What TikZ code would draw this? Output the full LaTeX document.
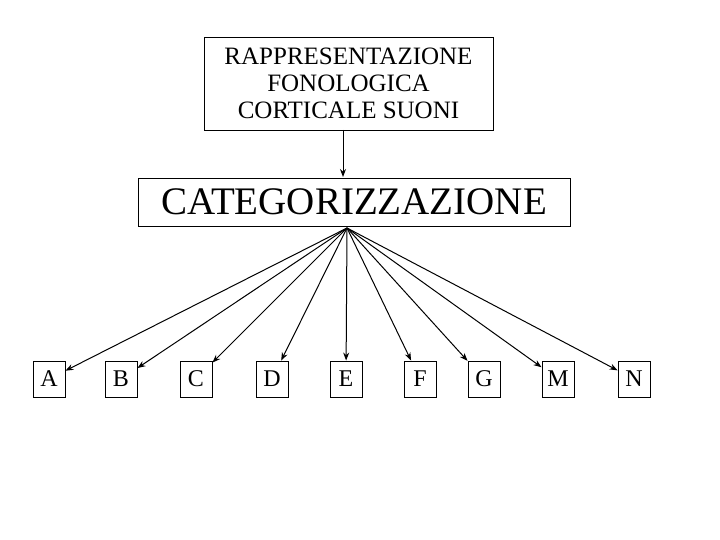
\documentclass[tikz,border=0pt]{standalone}
\usepackage{fontspec}
\setmainfont{Liberation Serif}
\usetikzlibrary{arrows.meta}
\begin{document}
\begin{tikzpicture}[x=1pt,y=-1pt,
  box/.style={draw,line width=0.9pt,inner sep=0pt,anchor=center},
  arr/.style={-{Stealth[length=8pt,width=6pt]},line width=1pt}]
\useasboundingbox (0,0) rectangle (720,540);
\node[box,minimum width=289,minimum height=93,align=center,font=\fontsize{25}{27}\selectfont] (top) at (348.5,83.5) {RAPPRESENTAZIONE\\FONOLOGICA\\CORTICALE SUONI};
\node[box,minimum width=432,minimum height=48,font=\fontsize{39}{40}\selectfont] (cat) at (354,202) {CATEGORIZZAZIONE};
\coordinate (src) at (347,228);
\draw[arr] (343,130) -- (343,177);
\foreach \n/\l/\x in {a/A/49,b/B/121,c/C/196,d/D/272,e/E/346,f/F/420,g/G/484,m/M/558,n/N/634}{
  \node[box,minimum width=32,minimum height=36,font=\fontsize{24}{26}\selectfont] (\n) at (\x,379) {\l};
  \draw[arr] (src) -- (\n);
}
\end{tikzpicture}
\end{document}
